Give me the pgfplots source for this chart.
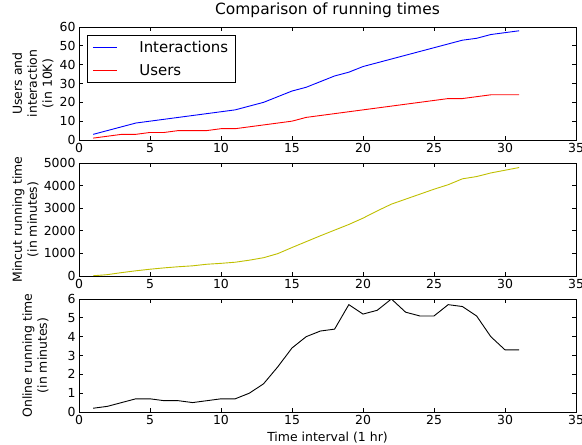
\documentclass[border=0pt]{standalone}
\usepackage{fontspec}
\setmainfont{DejaVu Sans}
\usepackage{pgfplots}
\pgfplotsset{compat=1.18}
\definecolor{mplyellow}{rgb}{0.75,0.75,0}
\pgfplotsset{
  mypanel/.style={
    scale only axis, width=497bp, height=113bp,
    xmin=0, xmax=35, xtick={0,5,...,35},
    tick align=inside, tick pos=both,
    xticklabel pos=lower, yticklabel pos=left,
    major tick length=4.4bp,
    axis line style={black, line width=0.9bp},
    tick style={black, line width=0.8bp},
    /pgf/number format/assume math mode=true,
    /pgf/number format/1000 sep={},
    tick label style={font=\fontsize{12.5}{14}\selectfont},
    every axis x label/.style={font=\fontsize{12.5}{15}\selectfont},
    every axis y label/.style={rotate=90, anchor=center, align=center,
      font=\fontsize{12.5}{15}\selectfont},
    every axis plot/.append style={line width=0.9bp, mark=none},
  }
}
\begin{document}
\begin{tikzpicture}
\path[use as bounding box] (0bp,0bp) rectangle (582bp,-445bp);

\begin{axis}[mypanel, at={(79bp,-27bp)}, anchor=north west,
  ymin=0, ymax=60, ytick={0,10,...,60},
  title={Comparison of running times},
  every axis title shift=0pt,
  title style={font=\fontsize{15.5}{18}\selectfont, at={(0.5,1)}, anchor=base, yshift=12.5bp},
  ylabel={Users and\\interaction\\(in 10K)},
  y label style={at={(axis description cs:-0.0926,0.5)}},
  legend style={at={(0,1)}, anchor=north west, xshift=8bp, yshift=-8bp,
    font=\fontsize{15}{18}\selectfont, draw=black, line width=0.9bp,
    inner xsep=5bp, inner ysep=4bp, row sep=6bp, column sep=20bp},
  legend cell align=left,
  legend image code/.code={\draw[#1] (3bp,0bp) -- (27bp,0bp);},
]
\addplot[blue] coordinates {
(1,3) (2,5) (3,7) (4,9) (5,10) (6,11) (7,12) (8,13) (9,14) (10,15)
(11,16) (12,18) (13,20) (14,23) (15,26) (16,28) (17,31) (18,34) (19,36) (20,39)
(21,41) (22,43) (23,45) (24,47) (25,49) (26,51) (27,53) (28,54) (29,56) (30,57) (31,58)};
\addlegendentry{Interactions}
\addplot[red] coordinates {
(1,1) (2,2) (3,3) (4,3) (5,4) (6,4) (7,5) (8,5) (9,5) (10,6)
(11,6) (12,7) (13,8) (14,9) (15,10) (16,12) (17,13) (18,14) (19,15) (20,16)
(21,17) (22,18) (23,19) (24,20) (25,21) (26,22) (27,22) (28,23) (29,24) (30,24) (31,24)};
\addlegendentry{Users}
\end{axis}

\begin{axis}[mypanel, at={(79bp,-163bp)}, anchor=north west,
  ymin=0, ymax=5000, ytick={0,1000,...,5000},
  ylabel={Mincut running time\\(in minutes)},
  y label style={at={(axis description cs:-0.1076,0.5)}},
]
\addplot[mplyellow] coordinates {
(1,10) (2,60) (3,150) (4,230) (5,300) (6,360) (7,410) (8,450) (9,520) (10,560)
(11,610) (12,700) (13,810) (14,990) (15,1260) (16,1520) (17,1780) (18,2030) (19,2280) (20,2560)
(21,2880) (22,3180) (23,3400) (24,3620) (25,3840) (26,4040) (27,4300) (28,4400) (29,4560) (30,4680) (31,4800)};
\end{axis}

\begin{axis}[mypanel, at={(79bp,-299bp)}, anchor=north west,
  ymin=0, ymax=6, ytick={0,1,...,6},
  ylabel={Online running time\\(in minutes)},
  y label style={at={(axis description cs:-0.0875,0.5)}},
  xlabel={Time interval (1 hr)},
  x label style={at={(axis description cs:0.5,0)}, anchor=base, yshift=-30bp},
]
\addplot[black] coordinates {
(1,0.2) (2,0.3) (3,0.5) (4,0.7) (5,0.7) (6,0.6) (7,0.6) (8,0.5) (9,0.6) (10,0.7)
(11,0.7) (12,1.0) (13,1.5) (14,2.4) (15,3.4) (16,4.0) (17,4.3) (18,4.4) (19,5.7) (20,5.2)
(21,5.4) (22,6.0) (23,5.3) (24,5.1) (25,5.1) (26,5.7) (27,5.6) (28,5.1) (29,4.0) (30,3.3) (31,3.3)};
\end{axis}
\end{tikzpicture}
\end{document}
